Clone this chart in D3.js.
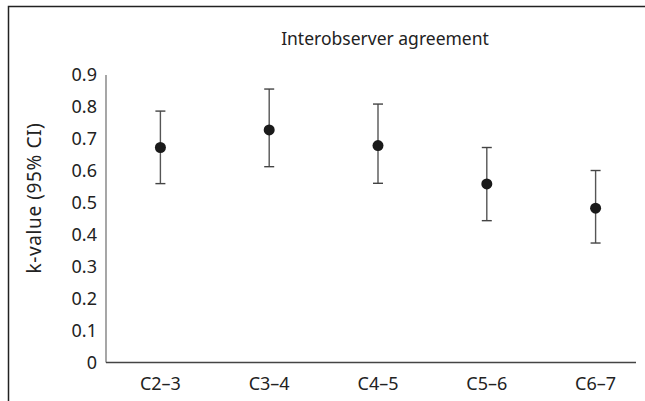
<!DOCTYPE html>
<html><head><meta charset="utf-8">
<script src="https://cdn.jsdelivr.net/npm/d3@7"></script>
<style>body{margin:0;background:#fff}svg{display:block}</style>
</head><body>
<script>
const categories = ["C2\u20133","C3\u20134","C4\u20135","C5\u20136","C6\u20137"];
const kValues = [0.673, 0.728, 0.679, 0.559, 0.483];
const ciLower = [0.560, 0.613, 0.561, 0.444, 0.374];
const ciUpper = [0.787, 0.856, 0.809, 0.673, 0.601];
const yTicks = [0,0.1,0.2,0.3,0.4,0.5,0.6,0.7,0.8,0.9];
const title = "Interobserver agreement";
const yLabel = "k-value (95% CI)";

const W = 645, H = 401;
const font = "'Noto Sans', sans-serif";
const svg = d3.select("body").append("svg").attr("width", W).attr("height", H);

// frame (only top and left visible)
svg.append("path").attr("d", `M8.5,${H} V6.5 H${W}`).attr("fill","none").attr("stroke","#222").attr("stroke-width",1.5);

const x0 = 106, x1 = 636;
const y = d3.scaleLinear().domain([0,0.9]).range([362.5, 75]);
const x = d3.scalePoint().domain(categories).range([106, 650]).padding(0.5);

// axes lines
svg.append("line").attr("x1",x0).attr("x2",x0).attr("y1",y(0.9)).attr("y2",y(0)).attr("stroke","#777").attr("stroke-width",1.3);
svg.append("line").attr("x1",x0).attr("x2",x1).attr("y1",y(0)).attr("y2",y(0)).attr("stroke","#444").attr("stroke-width",1.5);

// y tick labels
svg.append("g").selectAll("text").data(yTicks).join("text")
  .attr("x", 97).attr("y", d => y(d)).attr("dy","0.35em").attr("text-anchor","end")
  .attr("font-family", font).attr("font-size", 18).attr("fill","#222")
  .text(d => d === 0 ? "0" : d3.format(".1f")(d));

// x tick labels
svg.append("g").selectAll("text").data(categories).join("text")
  .attr("x", d => x(d)).attr("y", 390).attr("text-anchor","middle")
  .attr("font-family", font).attr("font-size", 18).attr("fill","#222")
  .text(d => d);

// title
svg.append("text").attr("x", 385).attr("y", 45).attr("text-anchor","middle")
  .attr("font-family", font).attr("font-size", 17.5).attr("fill","#222").text(title);

// y label
svg.append("text").attr("transform", `translate(34,198) rotate(-90)`)
  .attr("dy","0.35em").attr("text-anchor","middle").attr("letter-spacing", 0.6)
  .attr("font-family", font).attr("font-size", 19).attr("fill","#222").text(yLabel);

// error bars
const g = svg.append("g");
const data = categories.map((c,i) => ({c, v:kValues[i], lo:ciLower[i], hi:ciUpper[i]}));
const cap = 5;
g.selectAll(".stem").data(data).join("line")
  .attr("x1", d => x(d.c)).attr("x2", d => x(d.c)).attr("y1", d => y(d.lo)).attr("y2", d => y(d.hi))
  .attr("stroke","#555").attr("stroke-width",1.4);
g.selectAll(".capT").data(data).join("line")
  .attr("x1", d => x(d.c)-cap).attr("x2", d => x(d.c)+cap).attr("y1", d => y(d.hi)).attr("y2", d => y(d.hi))
  .attr("stroke","#444").attr("stroke-width",1.4);
g.selectAll(".capB").data(data).join("line")
  .attr("x1", d => x(d.c)-cap).attr("x2", d => x(d.c)+cap).attr("y1", d => y(d.lo)).attr("y2", d => y(d.lo))
  .attr("stroke","#444").attr("stroke-width",1.4);
g.selectAll("circle").data(data).join("circle")
  .attr("cx", d => x(d.c)).attr("cy", d => y(d.v)).attr("r", 5.5).attr("fill","#1a1a1a");
</script>
</body></html>
